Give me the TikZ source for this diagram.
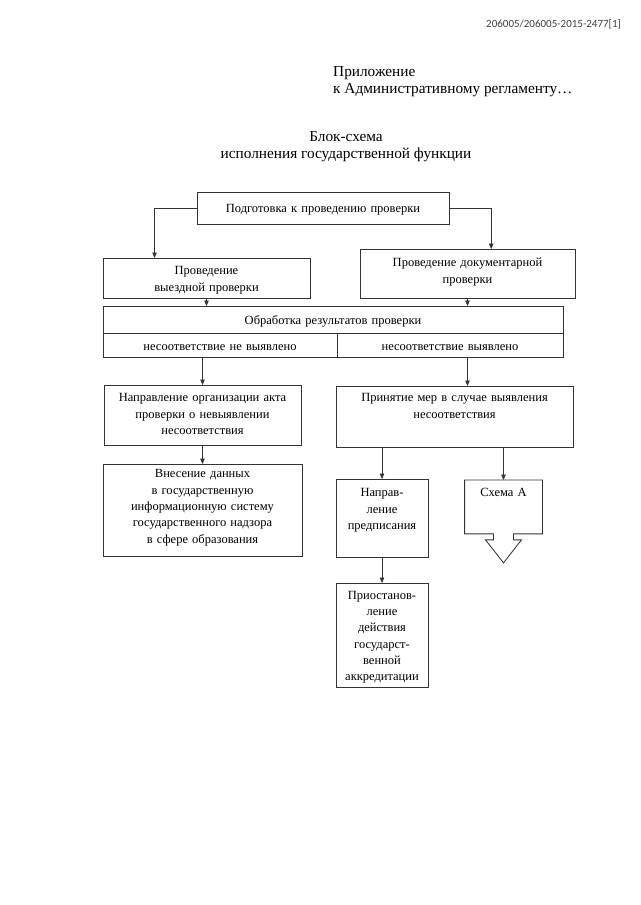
\documentclass[tikz,border=0pt]{standalone}
\usepackage{fontspec}
\setmainfont{Liberation Serif}
\newfontfamily\headfont{Carlito}
\usetikzlibrary{arrows.meta, calc}

\begin{document}
\begin{tikzpicture}[x=1pt, y=-1pt]
            \tikzstyle{box} = [rectangle, anchor=north, draw=black!80, line width=0.85pt, align=center, inner xsep=3pt, inner ysep=0pt, font=\fontsize{12.5}{16.3}\selectfont]
            \tikzstyle{arrow} = [draw=black!80, line width=0.7pt, ->, >={Triangle[length=5.5pt, width=4.5pt]}]
            \tikzstyle{heading} = [font=\fontsize{15.3}{17}\selectfont, inner sep=0pt]

            \useasboundingbox (0,0) rectangle (640,905);

            % Headings
            \node (docnum) [anchor=west, inner sep=0pt, text=black!75, font=\headfont\fontsize{11}{13}\selectfont] at (486,24) {206005/206005-2015-2477[1]};
            \node (annex) [heading, anchor=north west, align=left] at (333,66) {Приложение\\к Административному регламенту…};
            \node (title) [heading, align=center] at (346,147) {Блок-схема\\исполнения государственной функции};

            % Nodes
            \node (prep) [box, text width=246, text height=20.5pt, text depth=11.5pt] at (323,192) {Подготовка к проведению проверки};
            \node (visit) [box, text width=201, text height=16.4pt, text depth=23.6pt] at (206.5,258) {Проведение\\выездной проверки};
            \node (doc) [box, text width=209, text height=17.5pt, text depth=31.5pt] at (467.5,249) {Проведение документарной\\проверки};
            \node (proc) [box, text width=454, text height=18.5pt, text depth=8.5pt] at (333,306) {Обработка результатов проверки};
            \node (no) [box, text width=228, text height=17.5pt, text depth=6.5pt] at (220,333) {несоответствие не выявлено};
            \node (yes) [box, text width=220, text height=17.5pt, text depth=6.5pt] at (450,333) {несоответствие выявлено};
            \node (act) [box, text width=191, text height=16.5pt, text depth=43.5pt] at (202.5,385) {Направление организации акта\\проверки о невыявлении\\несоответствия};
            \node (measures) [box, text width=231, text height=15.5pt, text depth=45.5pt] at (454.5,386) {Принятие мер в случае выявления\\несоответствия};
            \node (enter) [box, text width=193, text height=13.5pt, text depth=78.5pt] at (202.5,464) {Внесение данных\\в государственную\\информационную систему\\государственного надзора\\в сфере образования};
            \node (order) [box, text width=86, text height=17.5pt, text depth=60.5pt] at (382,479) {Направ-\\ление\\предписания};
            \node (suspend) [box, text width=86, text height=15.75pt, text depth=88.25pt] at (382,583) {Приостанов-\\ление\\действия\\государст-\\венной\\аккредитации};
            \node (schema) [box, draw=none, text width=71, text height=16.5pt, text depth=36.5pt] at (503.5,480) {Схема А};
            \draw [draw=black!80, line width=0.85pt] (schema.south west) -- (schema.north west) -- (schema.north east) -- (schema.south east)
                -- ([xshift=10pt]schema.south) -- ++(0,6) -- ++(8,0) -- ([yshift=-29pt]schema.south)
                -- ([xshift=-18pt, yshift=-6pt]schema.south) -- ++(8,0) -- ([xshift=-10pt]schema.south) -- cycle;

            % Arrows
            \draw [arrow] (prep.west) -| ($(visit.north west)!0.25!(visit.north east)$);
            \draw [arrow] (prep.east) -| ($(doc.north west)!0.61!(doc.north east)$);
            \draw [arrow] (visit.south) -- (visit.south |- proc.north);
            \draw [arrow] (doc.south) -- (doc.south |- proc.north);
            \draw [arrow] (act.north |- no.south) -- (act.north);
            \draw [arrow] (doc.south |- yes.south) -- (doc.south |- measures.north);
            \draw [arrow] (act) -- (enter);
            \draw [arrow] (order.north |- measures.south) -- (order.north);
            \draw [arrow] (schema.north |- measures.south) -- (schema.north);
            \draw [arrow] (order) -- (suspend);
        \end{tikzpicture}
\end{document}
